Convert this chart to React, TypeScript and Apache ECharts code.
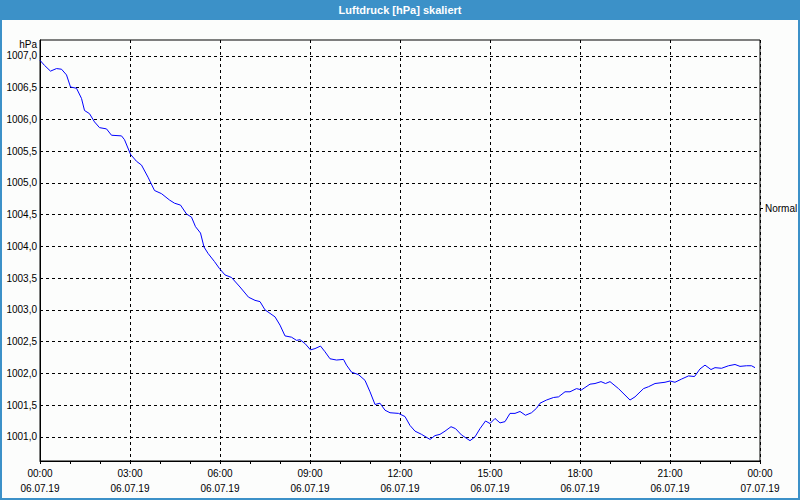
import React, { useEffect, useRef } from "react";
import * as echarts from "echarts";

// time in minutes since 06.07.19 00:00
const timeMinutes = [
  0, 9, 21, 33, 43, 53, 61, 73, 83, 89, 99, 109, 119, 133, 143, 163, 169, 181, 193, 203,
  216, 229, 243, 259, 269, 281, 293, 303, 311, 321, 328, 336, 349, 359, 370, 383, 400, 417, 430, 440,
  450, 470, 480, 490, 503, 513, 520, 530, 541, 550, 561, 570, 580, 593, 607, 613, 623, 637, 650, 660,
  670, 680, 690, 700, 717, 730, 740, 750, 763, 780, 790, 800, 810, 822, 831, 843, 860, 870, 880, 891,
  900, 910, 920, 930, 940, 950, 960, 971, 983, 993, 1000, 1013, 1027, 1037, 1050, 1060, 1073, 1083, 1100, 1110,
  1122, 1131, 1140, 1157, 1180, 1190, 1207, 1217, 1230, 1250, 1260, 1270, 1283, 1297, 1309, 1320, 1330, 1342, 1350, 1363,
  1377, 1390, 1400, 1413, 1423, 1430,
];

// air pressure in hPa
const pressure = [
  1006.93, 1006.85, 1006.76, 1006.8, 1006.79, 1006.7, 1006.51, 1006.49, 1006.33, 1006.14, 1006.09, 1005.96, 1005.87, 1005.85, 1005.75, 1005.74, 1005.68, 1005.45, 1005.34, 1005.28,
  1005.09, 1004.88, 1004.83, 1004.73, 1004.68, 1004.65, 1004.51, 1004.46, 1004.31, 1004.21, 1003.99, 1003.89, 1003.76, 1003.65, 1003.55, 1003.51, 1003.36, 1003.2, 1003.15, 1003.13,
  1003.0, 1002.89, 1002.76, 1002.59, 1002.57, 1002.52, 1002.53, 1002.47, 1002.37, 1002.39, 1002.43, 1002.34, 1002.23, 1002.21, 1002.22, 1002.13, 1002.02, 1001.98, 1001.89, 1001.71,
  1001.51, 1001.53, 1001.42, 1001.38, 1001.37, 1001.32, 1001.18, 1001.09, 1001.04, 1000.96, 1001.02, 1001.04, 1001.09, 1001.16, 1001.13, 1001.03, 1000.94, 1001.0, 1001.13, 1001.25,
  1001.21, 1001.29, 1001.22, 1001.24, 1001.37, 1001.37, 1001.4, 1001.34, 1001.38, 1001.45, 1001.53, 1001.58, 1001.62, 1001.63, 1001.71, 1001.71, 1001.76, 1001.74, 1001.83, 1001.84,
  1001.87, 1001.84, 1001.87, 1001.76, 1001.58, 1001.63, 1001.76, 1001.79, 1001.84, 1001.86, 1001.88, 1001.86, 1001.91, 1001.96, 1001.95, 1002.07, 1002.13, 1002.06, 1002.09, 1002.08,
  1002.12, 1002.14, 1002.11, 1002.12, 1002.12, 1002.09,
];

const yTickValues = [1001, 1001.5, 1002, 1002.5, 1003, 1003.5, 1004, 1004.5, 1005, 1005.5, 1006, 1006.5, 1007];
const xTickTimes = ["00:00", "03:00", "06:00", "09:00", "12:00", "15:00", "18:00", "21:00", "00:00"];
const xTickDates = ["06.07.19", "06.07.19", "06.07.19", "06.07.19", "06.07.19", "06.07.19", "06.07.19", "06.07.19", "07.07.19"];

const TITLE = "Luftdruck [hPa] skaliert";
const UNIT = "hPa";
const SERIES_NAME = "Normal";

const FONT = "Liberation Sans";
const FRAME_BLUE = "#3c91c8";

export default function App() {
  const ref = useRef<HTMLDivElement>(null);

  useEffect(() => {
    if (!ref.current) return;
    const chart = echarts.init(ref.current, undefined, { renderer: "svg" });
    const option: any = {
      animation: false,
      backgroundColor: "#fcfdfc",
      textStyle: { fontFamily: FONT },
      grid: {
        left: 40,
        right: 40,
        top: 40,
        bottom: 39,
        show: true,
        borderColor: "#000",
        borderWidth: 1,
        backgroundColor: "transparent",
      },
      xAxis: [
        {
          type: "value",
          min: 0,
          max: 1440,
          interval: 180,
          axisLine: { show: true, lineStyle: { color: "#000", width: 1 } },
          axisTick: { show: true, length: 3, lineStyle: { color: "#000" } },
          minorTick: { show: true, splitNumber: 3, length: 3, lineStyle: { color: "#000" } },
          splitLine: { show: true, lineStyle: { color: "#000", width: 1, type: [3, 3] } },
          axisLabel: {
            color: "#000",
            fontSize: 10,
            fontFamily: FONT,
            lineHeight: 15,
            margin: 5,
            formatter: (v: number) => {
              const i = Math.round(v / 180);
              return `${xTickTimes[i]}\n${xTickDates[i]}`;
            },
          },
        },
      ],
      yAxis: [
        {
          type: "value",
          min: 1000.62,
          max: 1007.25,
          axisLine: { show: true, lineStyle: { color: "#000", width: 1 } },
          axisTick: { show: false, customValues: yTickValues },
          axisLabel: {
            customValues: yTickValues,
            color: "#000",
            fontSize: 10,
            fontFamily: FONT,
            margin: 3,
            formatter: (v: number) => v.toFixed(1).replace(".", ","),
          },
          splitLine: { show: true, lineStyle: { color: "#000", width: 1, type: [3, 3] } },
        },
      ],
      series: [
        {
          name: SERIES_NAME,
          type: "line",
          data: timeMinutes.map((t, i) => [t, pressure[i]]),
          showSymbol: false,
          symbol: "none",
          lineStyle: { color: "#0000ff", width: 1 },
          itemStyle: { color: "#0000ff" },
        },
      ],
      graphic: [
        {
          type: "rect",
          shape: { x: 0, y: 0, width: 800, height: 20 },
          style: { fill: FRAME_BLUE },
          z: 10,
        },
        {
          type: "text",
          x: 400,
          y: 10,
          style: {
            text: TITLE,
            fill: "#fff",
            font: `bold 11px '${FONT}'`,
            align: "center",
            verticalAlign: "middle",
          },
          z: 11,
        },
        {
          type: "rect",
          shape: { x: 1, y: 1, width: 798, height: 498 },
          style: { fill: "none", stroke: FRAME_BLUE, lineWidth: 2 },
          z: 10,
        },
        {
          type: "text",
          x: 37,
          y: 44.5,
          style: {
            text: UNIT,
            fill: "#000",
            font: `10px '${FONT}'`,
            align: "right",
            verticalAlign: "middle",
          },
        },
        {
          type: "line",
          shape: { x1: 760, y1: 208.5, x2: 763, y2: 208.5 },
          style: { stroke: "#000", lineWidth: 1 },
        },
        {
          type: "text",
          x: 765,
          y: 208.5,
          style: {
            text: SERIES_NAME,
            fill: "#000",
            font: `10px '${FONT}'`,
            align: "left",
            verticalAlign: "middle",
          },
        },
      ],
    };
    chart.setOption(option);
    return () => {
      chart.dispose();
    };
  }, []);

  return (
    <div
      ref={ref}
      style={{ position: "fixed", left: 0, top: 0, width: 800, height: 500 }}
    />
  );
}
